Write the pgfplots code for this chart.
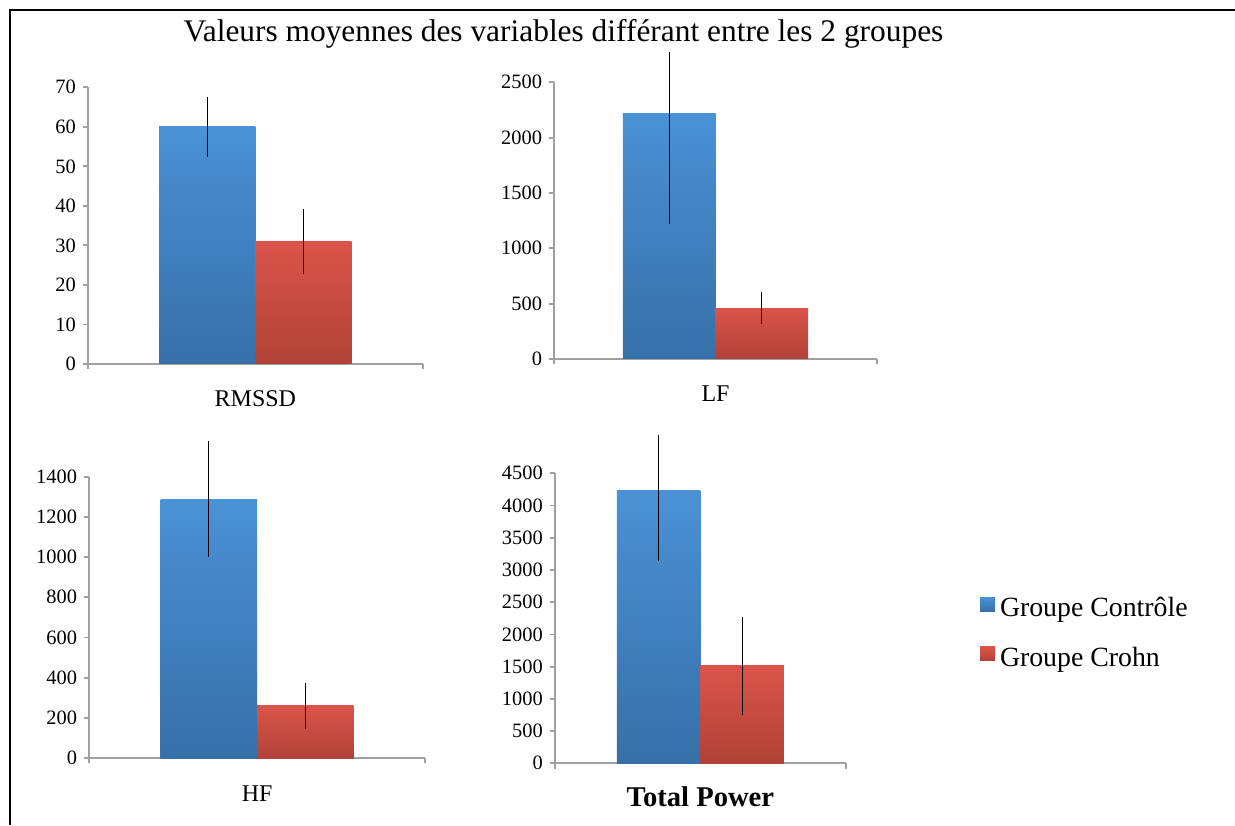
\documentclass[border=0pt]{standalone}
\usepackage{fontspec}
\setmainfont{Liberation Serif}
\usepackage{pgfplots}
\pgfplotsset{compat=1.18}
\definecolor{axisgray}{HTML}{A0A0A0}
\definecolor{btop}{HTML}{4A91D6}
\definecolor{bbot}{HTML}{3670A8}
\definecolor{rtop}{HTML}{DA544A}
\definecolor{rbot}{HTML}{B04237}
\pgfplotsset{
  panel/.style={
    scale only axis,
    clip mode=individual,
    xmin=0, xmax=1, ymin=0,
    axis x line*=bottom, axis y line*=left,
    y axis line style={draw=none},
    x axis line style={axisgray, line width=0.9pt},
    xtick={0,1}, xticklabels={,},
    tick align=outside,
    major tick length=2.6pt,
    tick style={axisgray, line width=0.9pt},
    /pgf/number format/assume math mode=true,
    /pgf/number format/1000 sep={},
    yticklabel style={font=\fontsize{10.2}{12}\selectfont, text=black},
    xlabel style={at={(axis description cs:0.5,0)}, anchor=base, yshift=-21.5pt, font=\fontsize{12}{14}\selectfont},
  },
  barbase/.style={ybar, bar width=0.2875, bar shift=0pt, draw=none,
    legend image code/.code={\path[##1] (0pt,-1.25pt) rectangle (7.5pt,5.75pt);},
    error bars/.cd, y dir=both, y explicit, error mark=none,
    error bar style={black, line width=0.6pt}},
  bluebar/.style={top color=btop, bottom color=bbot, barbase},
  redbar/.style={top color=rtop, bottom color=rbot, barbase},
}
\begin{document}
\begin{tikzpicture}
\useasboundingbox (0,0) rectangle (617.5pt,412.5pt);
\draw[line width=1.2pt] (5pt,0) -- (5pt,407.5pt) -- (617.5pt,407.5pt);
\node[anchor=base, font=\fontsize{15.7}{18}\selectfont] at (281.75pt,391.65pt) {Valeurs moyennes des variables différant entre les 2 groupes};

% RMSSD
\begin{axis}[panel, at={(44pt,230.5pt)}, anchor=south west,
  width=167.35pt, height=155.65pt, ymax=78.75,
  ytick={0,10,...,70}, xlabel={RMSSD}]
\addplot[bluebar] coordinates {(0.35625,60) +- (0,7.6)};
\addplot[redbar] coordinates {(0.64375,30.9) +- (0,8.2)};
\draw[axisgray, line width=0.9pt] (axis cs:0,0) -- (axis cs:0,70);
\end{axis}

% LF
\begin{axis}[panel, at={(277.15pt,233pt)}, anchor=south west,
  width=161.2pt, height=153.15pt, ymax=2767,
  ytick={0,500,...,2500}, xlabel={LF}]
\addplot[bluebar] coordinates {(0.35625,2222) +- (0,1005)};
\addplot[redbar] coordinates {(0.64375,458) +- (0,143)};
\draw[axisgray, line width=0.9pt] (axis cs:0,0) -- (axis cs:0,2500);
\end{axis}

% HF
\begin{axis}[panel, at={(44.65pt,33.5pt)}, anchor=south west,
  width=167.85pt, height=158.3pt, ymax=1575.6,
  ytick={0,200,...,1400}, xlabel={HF}]
\addplot[bluebar] coordinates {(0.35625,1288) +- (0,288)};
\addplot[redbar] coordinates {(0.64375,259) +- (0,116)};
\draw[axisgray, line width=0.9pt] (axis cs:0,0) -- (axis cs:0,1400);
\end{axis}

% Total Power
\begin{axis}[panel, at={(277.5pt,30.85pt)}, anchor=south west,
  width=145.35pt, height=163.65pt, ymax=5079,
  ytick={0,500,...,4500}, xlabel={Total Power},
  xlabel style={font=\fontsize{14.3}{16}\selectfont\bfseries},
  legend style={at={(axis description cs:1.462,0.397)}, anchor=west,
    draw=none, fill=none, inner sep=0pt, outer sep=0pt,
    row sep=13.5pt, column sep=2.5pt,
    font=\fontsize{13.9}{16}\selectfont, nodes={inner sep=0pt}},
  legend cell align=left]
\addplot[bluebar] coordinates {(0.35625,4226) +- (0,1091)};
\addlegendentry{Groupe Contrôle}
\addplot[redbar] coordinates {(0.64375,1510) +- (0,755)};
\addlegendentry{Groupe Crohn}
\draw[axisgray, line width=0.9pt] (axis cs:0,0) -- (axis cs:0,4500);
\end{axis}
\end{tikzpicture}
\end{document}
